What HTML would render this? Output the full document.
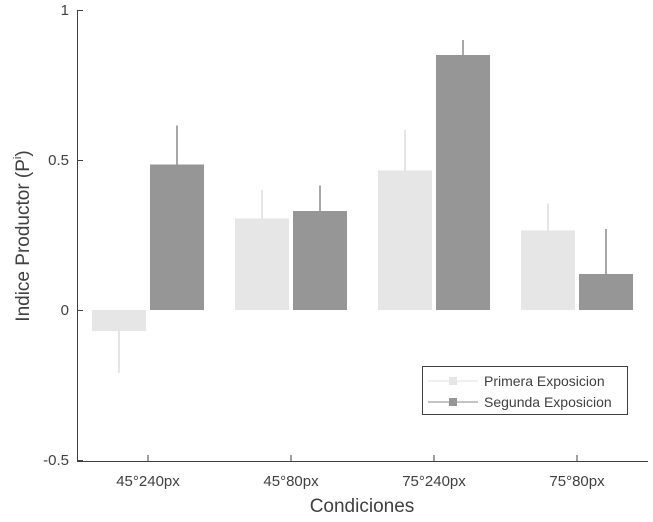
<!DOCTYPE html>
<html><head><meta charset="utf-8"><style>
body{margin:0;background:#fff;}
text{font-family:"Liberation Sans",sans-serif;fill:#404040;}
</style></head><body>
<svg width="653" height="517">
<g id="plot"></g>
</svg>
<script>
const categories=["45°240px","45°80px","75°240px","75°80px"];
const primera=[-0.07,0.305,0.465,0.265];
const primeraErr=[0.14,0.095,0.135,0.09];
const segunda=[0.485,0.33,0.85,0.12];
const segundaErr=[0.13,0.085,0.05,0.15];
const yTicks=[1,0.5,0,-0.5];
const yTickLabels=["1","0.5","0","-0.5"];
const NS="http://www.w3.org/2000/svg";
const g=document.getElementById('plot');
const y=v=>310-v*300;
const x=i=>148+i*143;
function el(t,a,p){const e=document.createElementNS(NS,t);for(const k in a)e.setAttribute(k,a[k]);(p||g).appendChild(e);return e;}
function series(vals,errs,off,fill,ecol,name){
vals.forEach((v,i)=>{
const cx=x(i)+off;
const top=Math.min(y(v),y(0)),h=Math.abs(y(v)-y(0));
const r=el('rect',{x:cx-27,y:top,width:54,height:h,fill:fill});


const e=v>=0?v+errs[i]:v-errs[i];
const l=el('line',{x1:cx,x2:cx,y1:y(v),y2:y(e),stroke:ecol,'stroke-width':1.5});


});}
series(primera,primeraErr,-29,'#e6e6e6','#dcdcdc','primera');
series(segunda,segundaErr,29,'#969696','#8a8a8a','segunda');
const ya=el('line',{x1:77.5,x2:77.5,y1:10,y2:461,stroke:'#404040','stroke-width':1});

const xa=el('line',{x1:77,x2:648,y1:461.5,y2:461.5,stroke:'#404040','stroke-width':1});

yTicks.forEach((t,i)=>{
el('line',{x1:77,x2:83,y1:y(t)+0.5,y2:y(t)+0.5,stroke:'#404040'});
const tx=el('text',{x:69,y:y(t)+5,'text-anchor':'end','font-size':15});tx.textContent=yTickLabels[i];

});
categories.forEach((c,i)=>{
el('line',{x1:x(i),x2:x(i),y1:461,y2:455,stroke:'#404040'});
const tx=el('text',{x:x(i),y:486,'text-anchor':'middle','font-size':15});tx.textContent=c;

});
const xt=el('text',{x:362,y:512,'text-anchor':'middle','font-size':19});xt.textContent='Condiciones';

const yt=el('text',{x:0,y:0,'text-anchor':'middle','font-size':19,transform:'translate(29,236) rotate(-90)'});
yt.innerHTML='Indice Productor (P<tspan dy="-8" font-size="11">i</tspan><tspan dy="8">)</tspan>';

const lg=el('g',{});

el('rect',{x:422.5,y:366.5,width:205,height:48,fill:'#fff',stroke:'#404040'},lg);
[['Primera Exposicion','#e6e6e6','#e0e0e0'],['Segunda Exposicion','#969696','#8a8a8a']].forEach((d,i)=>{
const yy=381+i*21;
el('line',{x1:428,x2:478,y1:yy,y2:yy,stroke:d[2]},lg);
el('rect',{x:449,y:yy-4,width:8,height:8,fill:d[1]},lg);
const t=el('text',{x:484,y:yy+5,'font-size':14},lg);t.textContent=d[0];

});
</script>
</body></html>
